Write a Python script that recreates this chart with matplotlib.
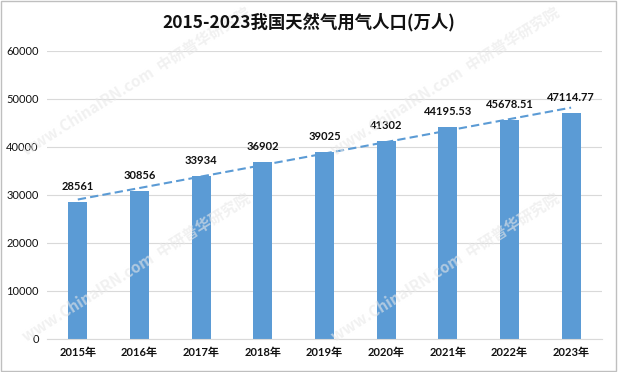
import matplotlib
matplotlib.use("Agg")
import matplotlib.pyplot as plt
import numpy as np
from matplotlib.patches import Rectangle

years = ["2015年", "2016年", "2017年", "2018年", "2019年", "2020年", "2021年", "2022年", "2023年"]
values = [28561, 30856, 33934, 36902, 39025, 41302, 44195.53, 45678.51, 47114.77]
labels = ["28561", "30856", "33934", "36902", "39025", "41302", "44195.53", "45678.51", "47114.77"]
yticks = [0, 10000, 20000, 30000, 40000, 50000, 60000]

fam = ["Lato", "Noto Sans CJK SC", "DejaVu Sans"]
plt.rcParams['font.family'] = fam

fig = fig = plt.figure(figsize=(6.18, 3.72), dpi=100)
ax = fig.add_axes([0.076, 0.089, 0.898, 0.774])

x = np.arange(len(years))
blue = "#5B9BD5"
ax.bar(x, values, width=0.31, color=blue, zorder=2)

coef = np.polyfit(x, values, 1)
ax.plot(x, np.polyval(coef, x), linestyle=(0, (4, 2)), color=blue, lw=1.5, zorder=3)

for xi, v, lab in zip(x, values, labels):
    ax.annotate(lab, (xi, v), xytext=(0, 7), textcoords="offset points",
                ha="center", va="bottom", fontsize=8, fontweight="bold", color="#111111")

ax.set_xlim(-0.5, len(years) - 0.5)
ax.set_ylim(0, 60000)
ax.set_yticks(yticks)
ax.set_yticklabels([str(t) for t in yticks], fontsize=8, color="#111111")
ax.set_xticks(x)
ax.set_xticklabels(years, fontsize=8, fontweight="bold", color="#111111")
ax.grid(axis="y", color="#D9D9D9", lw=0.8, zorder=0)
for s in ["top", "right", "left"]:
    ax.spines[s].set_visible(False)
ax.spines["bottom"].set_color("#D9D9D9")
ax.tick_params(axis="both", length=0, pad=6)

fig.text(0.5, 0.94, "2015-2023我国天然气用气人口(万人)", ha="center", va="center",
         fontsize=12.5, fontweight="bold", color="#111111",
         family=["Noto Sans CJK SC", "DejaVu Sans"])

# watermark
for (wx, wy) in [(0.22, 0.78), (0.72, 0.78), (0.22, 0.28), (0.72, 0.28)]:
    fig.text(wx, wy, "www.ChinaIRN.com  中研普华研究院", rotation=32, ha="center", va="center",
             fontsize=11, fontweight="bold", color="#E8E8E8", alpha=0.6, zorder=0,
             family=["Noto Sans CJK SC", "DejaVu Sans"])

fig.patches.append(Rectangle((0.002, 0.003), 0.995, 0.994, transform=fig.transFigure,
                             fill=False, edgecolor="#BFBFBF", lw=1))

fig.savefig("out.png", dpi=100)
